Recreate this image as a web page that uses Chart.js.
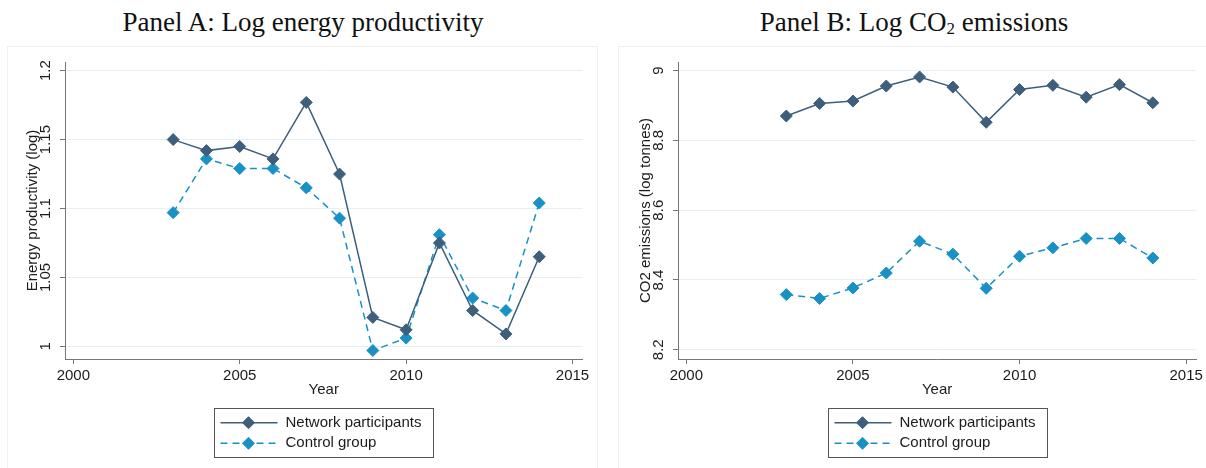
<!DOCTYPE html>
<html>
<head>
<meta charset="utf-8">
<script src="https://cdn.jsdelivr.net/npm/chart.js@4.4.1/dist/chart.umd.min.js"></script>
<style>
  body { margin: 0; background: #fff; }
  #wrap { position: relative; width: 1206px; height: 468px; overflow: hidden; background: #fff; }
  .frame { position: absolute; top: 46px; height: 440px; border: 1px solid #f0f0f0; }
  .title { position: absolute; top: 4px; width: 600px; text-align: center; line-height: 36px;
           font-family: "Liberation Serif", "Times New Roman", serif; font-size: 27px; color: #111; }
  .sub { font-size: 17px; vertical-align: -3px; }
  canvas { position: absolute; top: 0; }
</style>
</head>
<body>
<div id="wrap">
  <div class="frame" style="left:7px;width:589px"></div>
  <div class="frame" style="left:618px;width:600px"></div>
  <div class="title" style="left:3px">Panel A: Log energy productivity</div>
  <div class="title" style="left:614px">Panel B: Log CO<span class="sub">2</span> emissions</div>
  <canvas id="panelA" width="603" height="468" style="left:0"></canvas>
  <canvas id="panelB" width="593" height="468" style="left:613px"></canvas>
</div>
<script>
/* ===== data ===== */
const years = [2003, 2004, 2005, 2006, 2007, 2008, 2009, 2010, 2011, 2012, 2013, 2014];
const seriesNames = ["Network participants", "Control group"];

// Panel A: log energy productivity
const prodNetwork = [1.150, 1.142, 1.145, 1.136, 1.177, 1.125, 1.021, 1.012, 1.075, 1.026, 1.009, 1.065];
const prodControl = [1.097, 1.136, 1.129, 1.129, 1.115, 1.093, 0.997, 1.006, 1.081, 1.035, 1.026, 1.104];

// Panel B: log CO2 emissions
const co2Network = [8.870, 8.906, 8.913, 8.956, 8.982, 8.953, 8.852, 8.946, 8.958, 8.924, 8.960, 8.908];
const co2Control = [8.358, 8.347, 8.377, 8.420, 8.511, 8.474, 8.376, 8.468, 8.492, 8.519, 8.519, 8.463];

const xTicks = [2000, 2005, 2010, 2015];
const prodTicks = [1, 1.05, 1.1, 1.15, 1.2];
const co2Ticks = [8.2, 8.4, 8.6, 8.8, 9];

/* ===== styles ===== */
const NET = "#3e5f7b";
const CTRL = "#1a91c4";
const AXIS = "#777777";
const GRID = "#e6eff1";
const TXT = "#1c1c1c";
const FONT = { family: "'Liberation Sans', Arial, sans-serif", size: 15 };

function diamond(ctx, x, y, r, color) {
  ctx.beginPath();
  ctx.moveTo(x, y - r); ctx.lineTo(x + r, y); ctx.lineTo(x, y + r); ctx.lineTo(x - r, y);
  ctx.closePath();
  ctx.fillStyle = color; ctx.fill();
  ctx.lineWidth = 1; ctx.strokeStyle = color; ctx.stroke();
}

// rotated y tick labels + boxed legend under the plot
const stataExtras = {
  id: "stataExtras",
  afterDraw(chart) {
    const ctx = chart.ctx, ys = chart.scales.y, area = chart.chartArea;
    ctx.save();
    ctx.font = FONT.size + "px " + FONT.family;
    ctx.fillStyle = TXT;
    ctx.textAlign = "center";
    ctx.textBaseline = "middle";
    ys.ticks.forEach(t => {
      ctx.save();
      ctx.translate(area.left - 19, ys.getPixelForValue(t.value));
      ctx.rotate(-Math.PI / 2);
      ctx.fillText(String(t.value), 0, 0);
      ctx.restore();
    });

    const bw = 219, bh = 49;
    const bx = Math.round((area.left + area.right) / 2 - bw / 2) + 0.5, by = 408.5;
    ctx.strokeStyle = "#555"; ctx.lineWidth = 1;
    ctx.strokeRect(bx, by, bw, bh);
    chart.data.datasets.forEach((ds, i) => {
      const ry = 422.7 + i * 20.6;
      ctx.strokeStyle = ds.borderColor; ctx.lineWidth = ds.borderWidth;
      ctx.setLineDash(ds.borderDash || []);
      ctx.beginPath(); ctx.moveTo(bx + 6, ry); ctx.lineTo(bx + 63, ry); ctx.stroke();
      ctx.setLineDash([]);
      diamond(ctx, bx + 34, ry, 6, ds.borderColor);
      ctx.fillStyle = TXT; ctx.textAlign = "left";
      ctx.fillText(ds.label, bx + 71, ry);
    });
    ctx.restore();
  }
};

function makePanel(id, netVals, ctrlVals, yTicks, yMin, yMax, yTitle, padRight) {
  const pts = vals => years.map((x, i) => ({ x, y: vals[i] }));
  const line = (label, data, color, dash) => ({
    label, data, borderColor: color, backgroundColor: color, borderWidth: 1.5, borderDash: dash,
    pointStyle: "rectRot", pointRadius: 6, pointBorderWidth: 1,
    pointBackgroundColor: color, pointBorderColor: color, tension: 0
  });
  return new Chart(document.getElementById(id), {
    type: "line",
    data: { datasets: [
      line(seriesNames[0], pts(netVals), NET, []),
      line(seriesNames[1], pts(ctrlVals), CTRL, [7, 5])
    ]},
    options: {
      responsive: false, animation: false,
      layout: { padding: { left: 0, right: padRight, top: 62, bottom: 68 } },
      plugins: { legend: { display: false }, tooltip: { enabled: false } },
      scales: {
        x: {
          type: "linear", min: 1999.75, max: 2015.3,
          afterBuildTicks: s => { s.ticks = xTicks.map(v => ({ value: v })); },
          afterFit: s => { s.height = 41; },
          ticks: { font: FONT, color: TXT, padding: 3, maxRotation: 0, autoSkip: false, callback: v => String(v) },
          grid: { drawOnChartArea: false, tickLength: 5, tickColor: AXIS },
          border: { color: AXIS, width: 1 },
          title: { display: true, text: "Year", font: FONT, color: TXT, padding: { top: 0, bottom: 1 } }
        },
        y: {
          min: yMin, max: yMax,
          afterBuildTicks: s => { s.ticks = yTicks.map(v => ({ value: v })); },
          afterFit: s => { s.width = 65; },
          ticks: { display: false },
          grid: { color: GRID, lineWidth: 1, tickLength: 5, tickColor: AXIS },
          border: { color: AXIS, width: 1 },
          title: { display: true, text: yTitle, font: FONT, color: TXT, padding: { top: 23.5, bottom: 0 } }
        }
      }
    },
    plugins: [stataExtras]
  });
}

makePanel("panelA", prodNetwork, prodControl, prodTicks, 0.9908, 1.2063, "Energy productivity (log)", 20.5);
makePanel("panelB", co2Network, co2Control, co2Ticks, 8.1734, 9.0249, "CO2 emissions (log tonnes)", 9.4);
</script>
</body>
</html>
